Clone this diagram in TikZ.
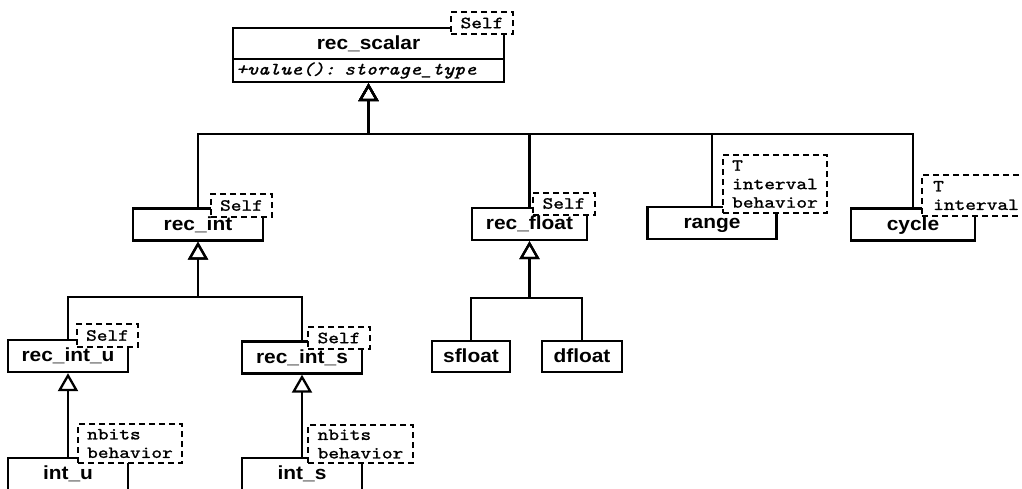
\documentclass[tikz,border=0pt]{standalone}
\usepackage{fontspec}
\usetikzlibrary{arrows.meta}
\newfontfamily\clsfont[FakeStretch=1.1]{Liberation Sans}
\newfontfamily\tplfont[FakeStretch=1.2, FakeBold=1.2, ItalicFont=lmmono10-italic.otf]{lmmono10-regular.otf}

\begin{document}
\begin{tikzpicture}[x=1pt,y=-1pt,
	cls/.style={draw, line width=2.3pt, fill=white, inner sep=0pt, minimum height=32pt,
		text height=14pt, text depth=3pt, font=\clsfont\bfseries\fontsize{19}{22}\selectfont},
	tpl/.style={draw, line width=2pt, dash pattern=on 6pt off 4pt, fill=white, inner sep=0pt,
		align=left, font=\tplfont\fontsize{17}{18.5}\selectfont},
	gen/.style={line width=2.3pt, -{Triangle[open, length=18pt, width=20pt]}},
	]

	\useasboundingbox (0,0) rectangle (1022,488);
	\clip (0,0) rectangle (1022,488);

	% classes
	\node[cls, minimum width=271pt, minimum height=31pt] (scalar) at (368.5,43.5) {rec\_scalar};
	\node[cls, minimum height=23pt, text width=265pt, inner xsep=3pt, align=left, text height=, text depth=,
		font=\tplfont\itshape\fontsize{17.5}{18}\selectfont] (value) at (368.5,70.5) {+value(): storage\_type};

	\node[cls, minimum width=130pt] (rint) at (198,224.5) {rec\_int};
	\node[cls, minimum width=115pt] (rfloat) at (529.5,224) {rec\_float};
	\node[cls, minimum width=129pt] (range) at (712,223) {range};
	\node[cls, minimum width=124pt] (cycle) at (913,224.5) {cycle};

	\node[cls, minimum width=120pt] (rintu) at (68,356) {rec\_int\_u};
	\node[cls, minimum width=120pt] (rints) at (302,357.5) {rec\_int\_s};
	\node[cls, minimum width=78pt, minimum height=31pt] (sfloat) at (471,356.5) {sfloat};
	\node[cls, minimum width=80pt, minimum height=31pt] (dfloat) at (582,356.5) {dfloat};

	\node[cls, minimum width=120pt] (intu) at (68,474) {int\_u};
	\node[cls, minimum width=120pt] (ints) at (302,474) {int\_s};

	% generalisations
	\coordinate (bus1) at (value.south |- 0,134);
	\coordinate (bus2) at (rint.south |- 0,297);
	\coordinate (bus3) at (rfloat.south |- 0,298);

	\foreach \c in {rint,rfloat,range,cycle}
		\draw[gen] (\c.north) |- (bus1) -- (value.south);
	\foreach \c in {rintu,rints}
		\draw[gen] (\c.north) |- (bus2) -- (rint.south);
	\foreach \c in {sfloat,dfloat}
		\draw[gen] (\c.north) |- (bus3) -- (rfloat.south);
	\draw[gen] (intu.north) -- (rintu.south);
	\draw[gen] (ints.north) -- (rints.south);

	% template parameters
	\node[tpl, minimum width=62pt, minimum height=22pt] (scalarT) at (482,23) {Self};
	\node[tpl, minimum width=61pt, minimum height=23pt] (rintT) at (241.5,205.5) {Self};
	\node[tpl, minimum width=62pt, minimum height=22pt] (rfloatT) at (564,203.5) {Self};
	\node[tpl, minimum width=104pt, minimum height=58pt] (rangeT) at (775,184) {T\\interval\\behavior};
	\node[tpl, minimum width=108pt, minimum height=41pt] (cycleT) at (976,195.5) {T\\interval};
	\node[tpl, minimum width=61pt, minimum height=23pt] (rintuT) at (107.5,335.5) {Self};
	\node[tpl, minimum width=62pt, minimum height=22pt] (rintsT) at (339,338) {Self};
	\node[tpl, minimum width=104pt, minimum height=39pt] (intuT) at (130,443.5) {nbits\\behavior};
	\node[tpl, minimum width=105pt, minimum height=38pt] (intsT) at (360.5,444) {nbits\\behavior};
\end{tikzpicture}
\end{document}
